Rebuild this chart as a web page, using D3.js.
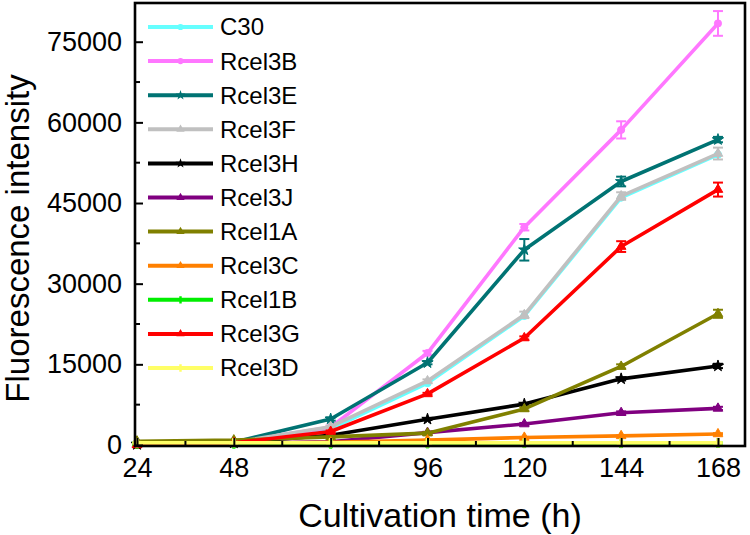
<!DOCTYPE html>
<html><head><meta charset="utf-8">
<script src="https://cdn.jsdelivr.net/npm/d3@7"></script>
<style>body{margin:0;background:#fff}svg{display:block;font-family:Arial,"Liberation Sans",sans-serif}</style>
</head><body><svg id="c" width="750" height="535"></svg>
<script>
const times = [24, 48, 72, 96, 120, 144, 168];
const seriesNames = ["C30","Rcel3B","Rcel3E","Rcel3F","Rcel3H","Rcel3J","Rcel1A","Rcel3C","Rcel1B","Rcel3G","Rcel3D"];
const colors = ["#66ffff","#ff77ff","#007373","#c0c0c0","#000000","#800080","#808000","#ff8000","#00ee00","#ff0000","#ffff66"];
const C30    = [200, 500, 3000, 11500, 24000, 46000, 54000];
const Rcel3B = [200, 500, 3300, 17100, 40500, 58600, 78400];
const Rcel3E = [200, 500, 4830, 15300, 36300, 49000, 56800];
const Rcel3F = [200, 500, 3400, 11900, 24200, 46300, 54200];
const Rcel3H = [100, 400, 1800, 4800, 7600, 12300, 14700];
const Rcel3J = [100, 300, 600, 2300, 3900, 6000, 6800];
const Rcel1A = [700, 900, 1500, 2200, 6700, 14600, 24400];
const Rcel3C = [200, 300, 500, 900, 1400, 1700, 2050];
const Rcel1B = [150, 200, 200, 250, 300, 300, 350];
const Rcel3G = [0, 400, 2500, 9500, 19900, 36900, 47500];
const Rcel3D = [400, 400, 400, 400, 400, 400, 400];
const errC30    = [0,0,0,0,0,0,0];
const errRcel3B = [0,0,300,400,600,1600,2300];
const errRcel3E = [0,0,300,300,2000,900,500];
const errRcel3F = [0,0,200,300,600,700,1100];
const errRcel3H = [0,0,100,150,200,300,400];
const errRcel3J = [0,0,100,150,200,250,300];
const errRcel1A = [0,0,100,200,300,400,750];
const errRcel3C = [0,0,50,50,100,100,150];
const errRcel1B = [0,0,0,0,0,0,0];
const errRcel3G = [0,0,200,200,300,1000,1300];
const errRcel3D = [0,0,0,0,0,0,0];
const yTicks = [0, 15000, 30000, 45000, 60000, 75000];
const xTicks = [24, 48, 72, 96, 120, 144, 168];
const xTitle = "Cultivation time (h)";
const yTitle = "Fluorescence intensity";

const values = [C30,Rcel3B,Rcel3E,Rcel3F,Rcel3H,Rcel3J,Rcel1A,Rcel3C,Rcel1B,Rcel3G,Rcel3D];
const errs = [errC30,errRcel3B,errRcel3E,errRcel3F,errRcel3H,errRcel3J,errRcel1A,errRcel3C,errRcel1B,errRcel3G,errRcel3D];
const symbols = [d3.symbolCircle,d3.symbolCircle,d3.symbolStar,d3.symbolTriangle,d3.symbolStar,d3.symbolTriangle,d3.symbolTriangle,d3.symbolTriangle,d3.symbolCross,d3.symbolTriangle,d3.symbolCross];

const L=135, R=745, T=3, B=446;
const svg = d3.select("#c");
const x = d3.scaleLinear().domain([23.5, 174.7]).range([L, R]);
const y = d3.scaleLinear().domain([-190, 82200]).range([B, T]);

const series = seriesNames.map((n,i)=>({name:n,color:colors[i],sym:symbols[i],
  pts:times.map((t,j)=>({t, v:values[i][j], e:errs[i][j]}))}));

const line = d3.line().x(d=>x(d.t)).y(d=>y(d.v));
const g = svg.append("g");
series.forEach(s=>{
  const sg = g.append("g");
  sg.append("path").datum(s.pts).attr("d",line).attr("fill","none").attr("stroke",s.color).attr("stroke-width",3.6).attr("stroke-linejoin","round");
  const eb = sg.selectAll(".eb").data(s.pts.filter(d=>d.e>0)).enter().append("g");
  eb.append("line").attr("x1",d=>x(d.t)).attr("x2",d=>x(d.t)).attr("y1",d=>y(d.v-d.e)).attr("y2",d=>y(d.v+d.e)).attr("stroke",s.color).attr("stroke-width",2);
  eb.append("line").attr("x1",d=>x(d.t)-5).attr("x2",d=>x(d.t)+5).attr("y1",d=>y(d.v-d.e)).attr("y2",d=>y(d.v-d.e)).attr("stroke",s.color).attr("stroke-width",2);
  eb.append("line").attr("x1",d=>x(d.t)-5).attr("x2",d=>x(d.t)+5).attr("y1",d=>y(d.v+d.e)).attr("y2",d=>y(d.v+d.e)).attr("stroke",s.color).attr("stroke-width",2);
  sg.selectAll(".m").data(s.pts).enter().append("path")
    .attr("d",d3.symbol().type(s.sym).size(40))
    .attr("transform",d=>`translate(${x(d.t)},${y(d.v)})`)
    .attr("fill",s.color).attr("stroke",s.color).attr("stroke-width",1);
});

// axes (inward ticks)
const yAxis = d3.axisLeft(y).tickValues(yTicks).tickSize(-8).tickPadding(13).tickFormat(d3.format("d"));
const yg = svg.append("g").attr("transform",`translate(${L},0)`).call(yAxis);
const yMinor = d3.range(7500, 82000, 15000);
svg.append("g").selectAll("line").data(yMinor).enter().append("line")
  .attr("x1",L).attr("x2",L+5).attr("y1",d=>y(d)).attr("y2",d=>y(d)).attr("stroke","#000").attr("stroke-width",2);
const xAxis = d3.axisBottom(x).tickValues(xTicks).tickSize(-8).tickPadding(12);
const xg = svg.append("g").attr("transform",`translate(0,${B})`).call(xAxis);
const xMinor = d3.range(36, 175, 24);
svg.append("g").selectAll("line").data(xMinor).enter().append("line")
  .attr("x1",d=>x(d)).attr("x2",d=>x(d)).attr("y1",B).attr("y2",B-5).attr("stroke","#000").attr("stroke-width",2);
[yg,xg].forEach(a=>{
  a.select(".domain").remove();
  a.selectAll(".tick line").attr("stroke","#000").attr("stroke-width",2);
  a.selectAll(".tick text").attr("font-size",27).attr("fill","#000").attr("font-family","Arial, 'Liberation Sans', sans-serif");
});
svg.append("rect").attr("x",L).attr("y",T).attr("width",R-L).attr("height",B-T)
  .attr("fill","none").attr("stroke","#000").attr("stroke-width",2.6);

svg.append("text").attr("x",(L+R)/2).attr("y",527).attr("text-anchor","middle").attr("font-size",34).text(xTitle);
svg.append("text").attr("transform",`translate(29,${(T+B)/2 + 14}) rotate(-90)`).attr("text-anchor","middle").attr("font-size",33).text(yTitle);

// legend
const lg = svg.append("g");
series.forEach((s,i)=>{
  const yy = 27 + i*34.1;
  lg.append("line").attr("x1",148).attr("x2",213).attr("y1",yy).attr("y2",yy).attr("stroke",s.color).attr("stroke-width",4);
  lg.append("path").attr("d",d3.symbol().type(s.sym).size(30)).attr("transform",`translate(180.5,${yy})`).attr("fill",s.color);
  lg.append("text").attr("x",220).attr("y",yy).attr("dy","0.35em").attr("font-size",24).text(s.name);
});
</script></body></html>
